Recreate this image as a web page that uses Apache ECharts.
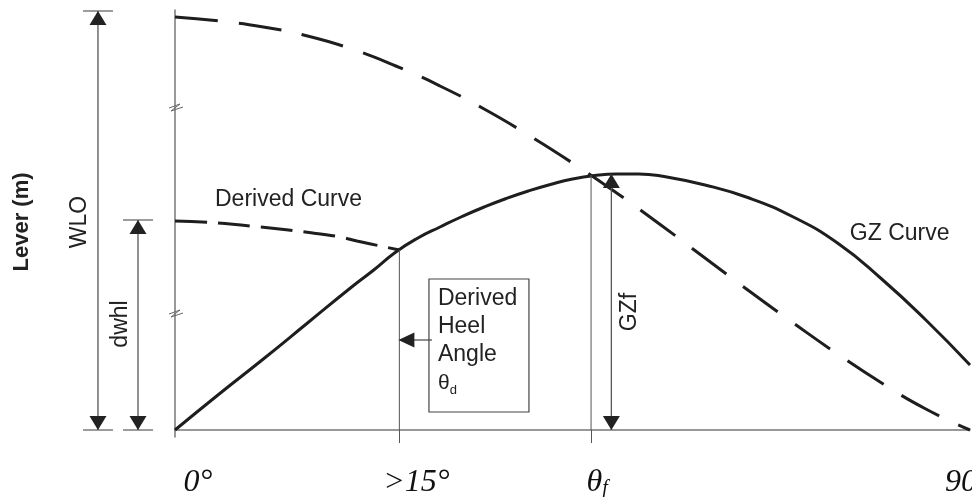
<!DOCTYPE html>
<html>
<head>
<meta charset="utf-8">
<script src="https://cdn.jsdelivr.net/npm/echarts@6/dist/echarts.min.js"></script>
<style>html,body{margin:0;padding:0;background:#fff}#main{width:972px;height:497px}</style>
</head>
<body>
<div id="main"></div>
<script>
// values: heel angle (deg) vs lever (arbitrary units)
var wloAngle = [0, 5, 10, 15, 20, 25, 30, 35, 40, 45, 50, 55, 60, 65, 70, 75, 80, 85, 90];
var wloLever = [413, 409, 403, 394, 381, 364, 344, 321, 295, 267, 237, 205, 172, 139, 107, 76, 47, 21, 0];

var gzAngle = [0, 5, 10, 15, 20, 22.5, 25, 27.5, 30, 32.5, 35, 37.5, 40, 42.5, 45, 47.5, 50, 52.5, 55, 60, 65, 70, 75, 80, 85, 90];
var gzLever = [0, 36, 71, 107, 143, 160, 178, 192, 203, 213.5, 223, 231.5, 239, 245.5, 251, 254.5, 256, 256, 254, 245, 232, 213, 187, 151, 110, 65];

var derivedAngle = [0, 4.8, 9.6, 15.6, 18.7, 20.6, 25.4];
var derivedLever = [209, 207, 203, 197, 193, 189, 180];

var thetaD = 25.4, thetaF = 47.1;
var xTicks = [0, thetaD, thetaF, 90];
var xTickLabels = ['0°', '>15°', 'θf', '90°'];

function zip(a, b) { return a.map(function (v, i) { return [v, b[i]]; }); }

var chart = echarts.init(document.getElementById('main'));

var labelRich = {
    t: {fontFamily: 'Liberation Serif', fontStyle: 'italic', fontSize: 32, color: '#111', lineHeight: 32},
    s: {fontFamily: 'Liberation Serif', fontStyle: 'italic', fontSize: 20, color: '#111', lineHeight: 20, verticalAlign: 'bottom'},
    sp0: {width: 46}, sp1: {width: 34}, sp2: {width: 12}, sp3: {width: 5}
};

var option = {
    animation: false,
    grid: {left: 175, right: 2, top: 10, bottom: 60, outerBoundsMode: 'none', containLabel: false},
    xAxis: {
        type: 'value', min: 0, max: 90,
        splitLine: {show: false},
        axisLine: {lineStyle: {color: '#777', width: 1.5}},
        axisTick: {customValues: [thetaD, thetaF], length: 13, lineStyle: {color: '#555', width: 1}},
        axisLabel: {
            customValues: xTicks, margin: 30, rich: labelRich,
            formatter: function (v) {
                var i = xTicks.indexOf(v);
                if (i === 0) return '{sp0| }{t|' + xTickLabels[0] + '}';
                if (i === 1) return '{sp1| }{t|' + xTickLabels[1] + '}';
                if (i === 2) return '{sp2| }{t|θ}{s|f}';
                if (i === 3) return '{t|' + xTickLabels[3] + '}{sp3| }';
                return '';
            }
        }
    },
    yAxis: {
        type: 'value', min: -7, max: 420,
        splitLine: {show: false},
        axisLine: {show: true, lineStyle: {color: '#777', width: 1.5}},
        axisTick: {show: false},
        axisLabel: {show: false}
    },
    series: [
        {
            name: 'WLO', type: 'line', data: zip(wloAngle, wloLever), smooth: 0.5, symbol: 'none',
            lineStyle: {color: '#1e1e1e', width: 3, type: [43, 21]}
        },
        {
            name: 'GZ', type: 'line', data: zip(gzAngle, gzLever), smooth: 0.5, symbol: 'none',
            lineStyle: {color: '#1e1e1e', width: 3}
        },
        {
            name: 'Derived', type: 'line', data: zip(derivedAngle, derivedLever), smooth: 0.4, symbol: 'none',
            lineStyle: {color: '#1e1e1e', width: 3, type: [32, 11]}
        },
        {
            type: 'line', data: [[thetaD, 180], [thetaD, 0]], symbol: 'none',
            lineStyle: {color: '#555', width: 1}
        },
        {
            type: 'line', data: [[thetaF, 255], [thetaF, 0]], symbol: 'none',
            lineStyle: {color: '#555', width: 1}
        }
    ]
};
chart.setOption(option);

// annotations
function px(x, y) { return chart.convertToPixel({xAxisIndex: 0, yAxisIndex: 0}, [x, y]); }
var g = [];
function seg(a, b, w, c) {
    g.push({type: 'line', z: 50, shape: {x1: a[0], y1: a[1], x2: b[0], y2: b[1]}, style: {stroke: c || '#555', lineWidth: w || 1.2}});
}
function tri(p, dir, len, half) {
    var x = p[0], y = p[1], pts;
    if (dir === 'up') pts = [[x, y], [x - half, y + len], [x + half, y + len]];
    else if (dir === 'down') pts = [[x, y], [x - half, y - len], [x + half, y - len]];
    else pts = [[x, y], [x + len, y - half], [x + len, y + half]];
    g.push({type: 'polygon', z: 51, shape: {points: pts}, style: {fill: '#222'}});
}
function dim(xd, top, bot, bars) {
    var a = px(xd, top), b = px(xd, bot);
    seg(a, b, 1.3, '#555');
    tri(a, 'up', 14, 8.5);
    tri(b, 'down', 14, 8.5);
    if (bars) {
        seg([a[0] - 15, a[1]], [a[0] + 15, a[1]], 1.3, '#666');
        seg([b[0] - 15, b[1]], [b[0] + 15, b[1]], 1.3, '#666');
    }
}
dim(-8.72, 419, 0, true);   // WLO
dim(-4.19, 210, 0, true);   // dwhl
dim(49.4, 256, 0, false);   // GZf

// axis break marks
[323, 117].forEach(function (v) {
    var p = px(0, v);
    g.push({type: 'polyline', z: 52, shape: {points: [[p[0] - 6, p[1] + 1], [p[0] + 5, p[1] - 3], [p[0] - 4, p[1] + 4], [p[0] + 8, p[1]]]},
        style: {stroke: '#666', lineWidth: 1, fill: null}});
});

// derived heel angle box
var b1 = px(28.75, 151), b2 = px(40.07, 18);
g.push({type: 'rect', z: 50, shape: {x: b1[0], y: b1[1], width: b2[0] - b1[0], height: b2[1] - b1[1]},
    style: {fill: '#fff', stroke: '#444', lineWidth: 1.2}});
g.push({type: 'text', z: 53, x: b1[0] + 9, y: b1[1] + 6,
    style: {text: 'Derived\nHeel\nAngle\n{th|θ}{sub|d}', fontFamily: 'Liberation Sans', fontSize: 23, lineHeight: 28, fill: '#222',
        align: 'left', verticalAlign: 'top',
        rich: {th: {fontFamily: 'Liberation Sans', fontSize: 21, fill: '#222', lineHeight: 28},
               sub: {fontFamily: 'Liberation Sans', fontSize: 13, fill: '#222', lineHeight: 20, verticalAlign: 'bottom'}}}});
var ar = px(thetaD, 90);
seg([b1[0] + 3, ar[1]], [ar[0] + 10, ar[1]], 1.2, '#444');
tri([ar[0] - 1, ar[1]], 'left', 16, 7.5);

function label(text, x, y, opt) {
    var p = px(x, y);
    g.push({type: 'text', z: 53, x: p[0], y: p[1], rotation: opt.rot || 0,
        style: {text: text, fontFamily: 'Liberation Sans', fontSize: opt.size || 23, fontWeight: opt.bold ? 'bold' : 'normal',
            fill: '#222', align: opt.align || 'center', verticalAlign: 'middle'}});
}
label('Lever (m)', -17.32, 208, {rot: Math.PI / 2, bold: true, size: 22});
label('WLO', -10.75, 208, {rot: Math.PI / 2});
label('dwhl', -6.11, 106, {rot: Math.PI / 2});
label('GZf', 51.5, 118, {rot: Math.PI / 2});
label('Derived Curve', 4.53, 230, {align: 'left'});
label('GZ Curve', 76.4, 196.5, {align: 'left'});

chart.setOption({graphic: g});
</script>
</body>
</html>
